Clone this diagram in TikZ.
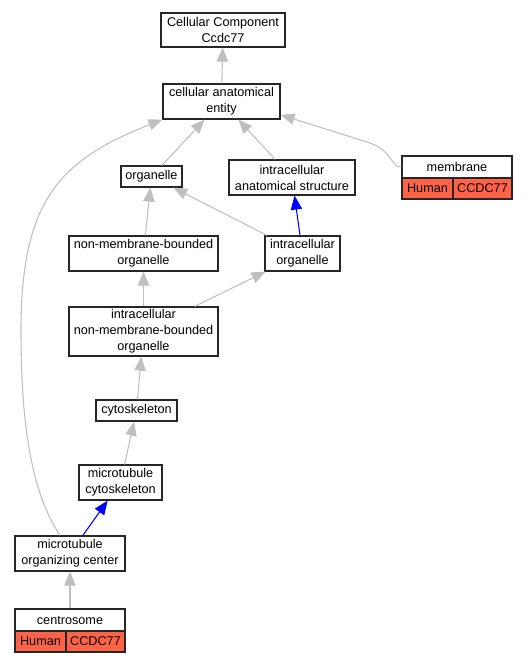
\documentclass[tikz,border=0pt]{standalone}
\usepackage{fontspec}
\setmainfont{Liberation Sans}
\usetikzlibrary{arrows.meta, positioning}
\definecolor{genered}{HTML}{FF6347}

\begin{document}
\begin{tikzpicture}[x=0.75pt, y=-0.75pt,
    term/.style={draw=black!85, line width=0.9pt, fill=white, align=center,
                 inner sep=0pt, font=\fontsize{9.5}{12}\selectfont},
    gene/.style={term, fill=genered},
    isa/.style={draw=black!25, line width=0.8pt,
                -{Triangle[length=10.5pt, width=8.5pt]}},
    partof/.style={draw=blue, line width=0.8pt,
                   -{Triangle[length=10.5pt, width=8.5pt]}}]
  \useasboundingbox (0,0) rectangle (528,664);

  % Terms
  \node[term, minimum width=93pt, minimum height=25.5pt] (ccc) at (223,30)
    {Cellular Component\\Ccdc77};
  \node[term, minimum width=87.75pt, minimum height=26.25pt] (cae) at (221.5,101.5)
    {cellular anatomical\\entity};
  \node[term, minimum width=45.75pt, minimum height=15.75pt] (org) at (151.5,176.5)
    {organelle};
  \node[term, minimum width=94.5pt, minimum height=26.25pt] (ias) at (292,177.5)
    {intracellular\\anatomical structure};
  \node[term, minimum width=111.75pt, minimum height=26.25pt] (nmbo) at (143.5,253.5)
    {non-membrane-bounded\\organelle};
  \node[term, minimum width=56.25pt, minimum height=26.25pt] (io) at (302.5,253.5)
    {intracellular\\organelle};
  \node[term, minimum width=111.75pt, minimum height=36.75pt] (inmbo) at (143.5,331.5)
    {intracellular\\non-membrane-bounded\\organelle};
  \node[term, minimum width=60.75pt, minimum height=15.75pt] (cyto) at (136.5,410.5)
    {cytoskeleton};
  \node[term, minimum width=62.25pt, minimum height=26.25pt] (mc) at (120.5,482.5)
    {microtubule\\cytoskeleton};
  \node[term, minimum width=82.5pt, minimum height=26.25pt] (moc) at (70,553.5)
    {microtubule\\organizing center};

  % Annotated terms
  \node[term, minimum width=82.5pt, minimum height=16.5pt] (mem) at (457,167)
    {membrane};
  \node[gene, minimum width=38.25pt, minimum height=15.75pt] (memhs) at (427.5,188.5)
    {Human};
  \node[gene, minimum width=44.25pt, minimum height=15.75pt] (memgn) at (482.5,188.5)
    {CCDC77};
  \node[term, minimum width=82.5pt, minimum height=16.5pt] (cen) at (70,620)
    {centrosome};
  \node[gene, minimum width=38.25pt, minimum height=15.75pt] (cenhs) at (40.5,641.5)
    {Human};
  \node[gene, minimum width=44.25pt, minimum height=15.75pt] (cengn) at (95.5,641.5)
    {CCDC77};

  % is_a
  \draw[isa] (cae) -- (ccc);
  \draw[isa] (org) -- (cae);
  \draw[isa] (ias) -- (cae);
  \draw[isa] (mem.west) .. controls (390,167) and (394,152) .. (370,143)
    -- ([yshift=-10pt]cae.east);
  \draw[isa] ([xshift=-7.5pt]moc.north) .. controls (30,490) and (21,420) .. (21,330)
    .. controls (21,200) and (60,160) .. (cae.south west);
  \draw[isa] (nmbo) -- (org);
  \draw[isa] (io) -- (org);
  \draw[isa] (inmbo) -- (nmbo);
  \draw[isa] (inmbo) -- (io);
  \draw[isa] (cyto) -- (inmbo);
  \draw[isa] (mc) -- (cyto);
  \draw[isa] (cen) -- (moc);

  % part_of
  \draw[partof] (io) -- (ias);
  \draw[partof] (moc) -- (mc);
\end{tikzpicture}
\end{document}
